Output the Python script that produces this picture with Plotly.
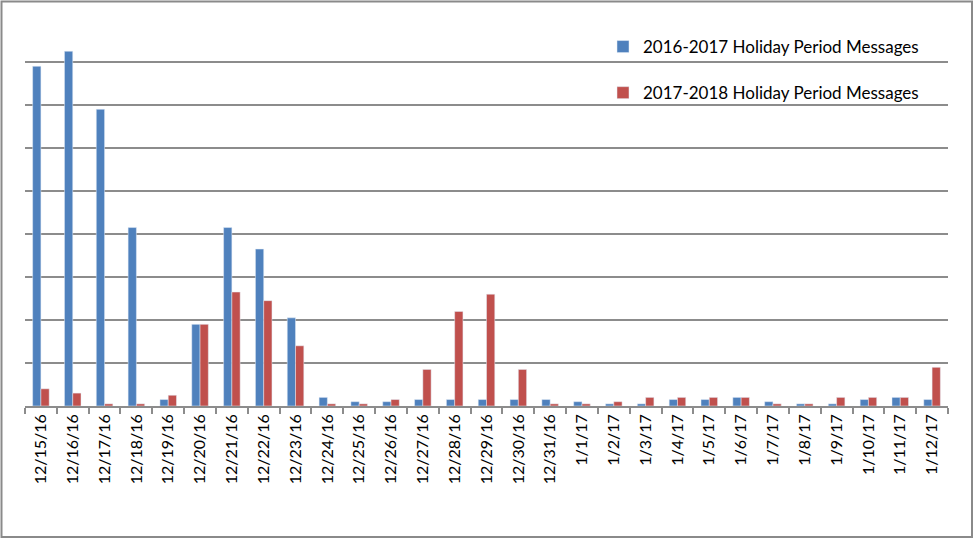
import plotly.graph_objects as go

dates = ["12/15/16", "12/16/16", "12/17/16", "12/18/16", "12/19/16", "12/20/16", "12/21/16",
         "12/22/16", "12/23/16", "12/24/16", "12/25/16", "12/26/16", "12/27/16", "12/28/16",
         "12/29/16", "12/30/16", "12/31/16", "1/1/17", "1/2/17", "1/3/17", "1/4/17", "1/5/17",
         "1/6/17", "1/7/17", "1/8/17", "1/9/17", "1/10/17", "1/11/17", "1/12/17"]

msgs_2016_2017 = [158, 165, 138, 83, 3, 38, 83, 73, 41, 4, 2, 2, 3, 3,
                  3, 3, 3, 2, 1, 1, 3, 3, 4, 2, 1, 1, 3, 4, 3]
msgs_2017_2018 = [8, 6, 1, 1, 5, 38, 53, 49, 28, 1, 1, 3, 17, 44,
                  52, 17, 1, 1, 2, 4, 4, 4, 4, 1, 1, 4, 4, 4, 18]

name_a = "2016-2017 Holiday Period Messages"
name_b = "2017-2018 Holiday Period Messages"

FONT = "Lato"

fig = go.Figure()
fig.add_trace(go.Bar(x=dates, y=msgs_2016_2017, name=name_a, marker_color="#4F81BD",
                     legendgroup="a"))
fig.add_trace(go.Bar(x=dates, y=msgs_2017_2018, name=name_b, marker_color="#C0504D",
                     legendgroup="b"))

W, H = 974, 539
L, R, T, B = 25, 26, 19, 133
pw, ph = W - L - R, H - T - B

def px_to_paper_x(px):
    return (px - L) / pw

def px_to_paper_y(py):
    return 1 - (py - T) / ph

fig.update_layout(
    width=W, height=H,
    margin=dict(l=L, r=R, t=T, b=B, pad=0),
    paper_bgcolor="white", plot_bgcolor="white",
    barmode="group", bargap=0.48, bargroupgap=0,
    font=dict(family=FONT, size=15, color="black"),
    showlegend=True,
    legend=dict(x=px_to_paper_x(603), y=px_to_paper_y(29), xanchor="left", yanchor="top",
                bgcolor="rgba(0,0,0,0)", font=dict(family=FONT, size=17, color="black"),
                traceorder="grouped", tracegroupgap=21, itemwidth=30),
    xaxis=dict(type="category", tickangle=-90, tickson="boundaries", ticks="outside",
               ticklen=6, tickcolor="#8c8c8c", tickwidth=1.5, showline=True,
               linecolor="#8c8c8c", linewidth=1.5, showgrid=False,
               tickfont=dict(family=FONT, size=16, color="black"), fixedrange=True),
    yaxis=dict(range=[0, 180], dtick=20, showticklabels=False, showgrid=True,
               gridcolor="#8c8c8c", gridwidth=1.5, zeroline=False, showline=False,
               ticks="", fixedrange=True),
    shapes=[dict(type="rect", xref="paper", yref="paper",
                 x0=px_to_paper_x(1.5), x1=px_to_paper_x(972),
                 y0=px_to_paper_y(537), y1=px_to_paper_y(1.5),
                 line=dict(color="#8a8a8a", width=2), fillcolor="rgba(0,0,0,0)",
                 layer="above")],
)

fig.write_html("out.html", config={"displayModeBar": False},
               post_script="document.body.style.margin='0px';document.body.style.overflow='hidden';")
